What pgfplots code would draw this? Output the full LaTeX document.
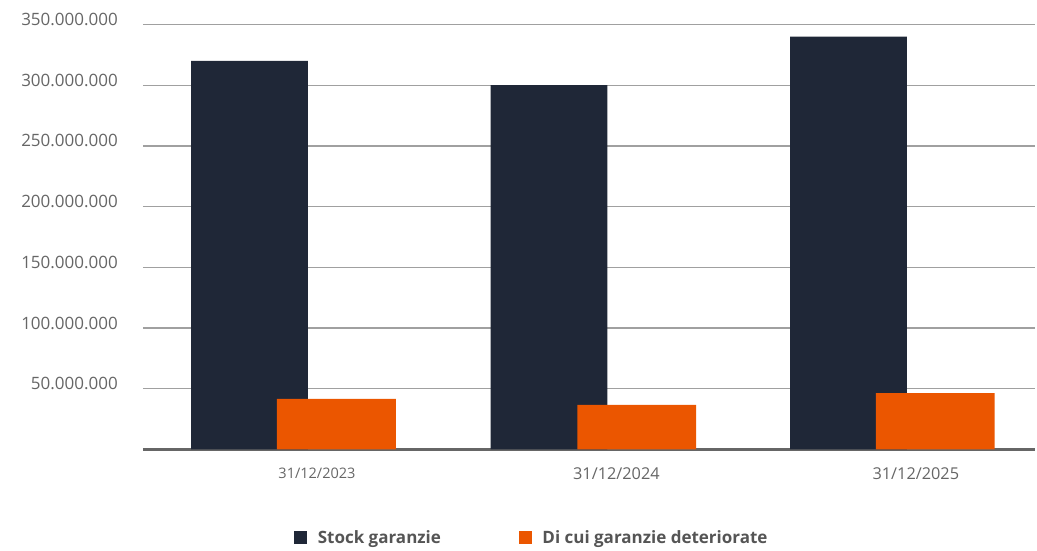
\documentclass[border=0pt]{standalone}
\usepackage{pgfplots}
\pgfplotsset{compat=1.18}
\usepackage{fontspec}
\setmainfont{Open Sans}
\definecolor{darkbar}{HTML}{1F2737}
\definecolor{orangebar}{HTML}{EB5600}
\definecolor{gridc}{HTML}{A0A0A0}
\definecolor{labc}{HTML}{666666}
\definecolor{legc}{HTML}{555555}
\begin{document}
\begin{tikzpicture}
\useasboundingbox (-143pt,-101pt) rectangle (894pt,425.5pt+24pt);
\begin{axis}[
  scale only axis,
  width=892pt, height=425pt,
  xmin=-0.356, xmax=2.623,
  ymin=0, ymax=350000000,
  scaled y ticks=false,
  axis x line*=bottom,
  axis y line*=left,
  y axis line style={draw=none},
  x axis line style={draw=labc, line width=2.5pt},
  xtick={0.225,1.225,2.225},
  xticklabels={{\fontsize{14.5}{16}\selectfont 31/12/2023},{\fontsize{16.3}{18}\selectfont 31/12/2024},{\fontsize{16.3}{18}\selectfont 31/12/2025}},
  major tick length=0pt,
  xticklabel style={text=labc, inner sep=0pt, yshift=-18pt},
  ytick={50000000,100000000,150000000,200000000,250000000,300000000,350000000},
  yticklabels={50.000.000,100.000.000,150.000.000,200.000.000,250.000.000,300.000.000,350.000.000},
  yticklabel style={font=\fontsize{17}{19}\selectfont, text=labc, inner sep=0pt, xshift=-25pt, yshift=5pt},
  ymajorgrids,
  grid style={draw=gridc, line width=1.3pt},
  bar width=0.39,
  legend columns=2,
  legend style={draw=none, fill=none, at={(0.166,-0.207)}, anchor=west,
    font=\fontsize{17}{19}\selectfont\bfseries, text=legc,
    /tikz/every odd column/.append style={column sep=8.5pt},
    /tikz/every even column/.append style={column sep=76pt}},
  legend image code/.code={\fill[#1] (0pt,-6.5pt) rectangle (13pt,6.5pt);},
]
\addplot[ybar, bar shift=0pt, fill=darkbar, draw=none] coordinates {(0,320000000) (1,300000000) (2,340000000)};
\addlegendentry{Stock garanzie}
\addplot[ybar, bar shift=0pt, fill=orangebar, draw=none, bar width=0.397] coordinates {(0.29,41700000) (1.293,36700000) (2.29,46400000)};
\addlegendentry{Di cui garanzie deteriorate}
\end{axis}
\end{tikzpicture}
\end{document}
